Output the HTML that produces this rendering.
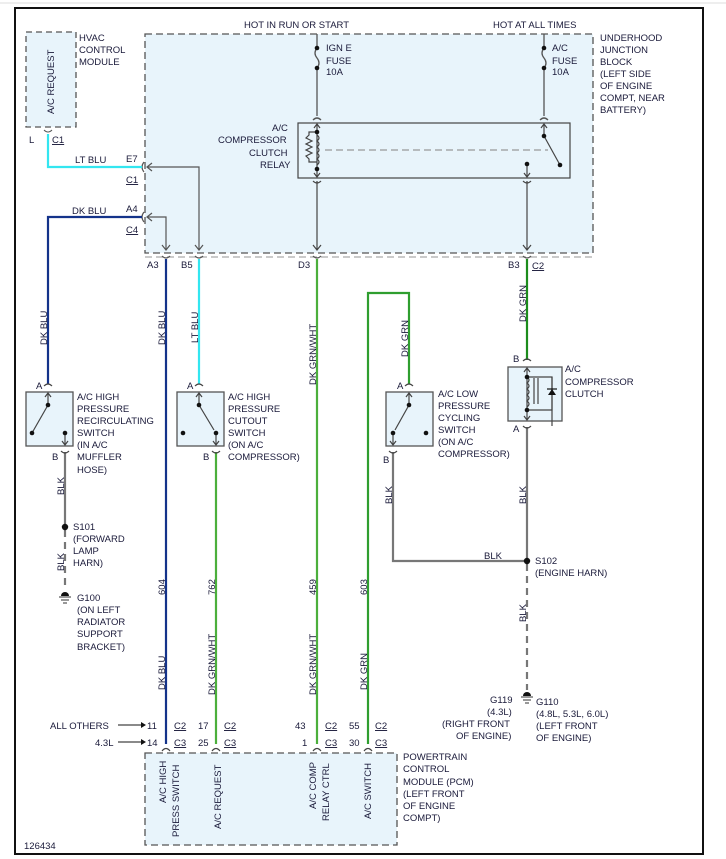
<!DOCTYPE html>
<html><head><meta charset="utf-8"><style>
html,body{margin:0;padding:0;background:#fff;}
svg{display:block;}
text{font-family:"Liberation Sans",sans-serif;font-size:9.5px;fill:#1a1a3a;}
</style></head><body>
<svg width="726" height="859" viewBox="0 0 726 859" xmlns="http://www.w3.org/2000/svg">
<rect x="0" y="0" width="726" height="859" fill="#fff"/>
<line x1="0" y1="3" x2="726" y2="3" stroke="#ddd" stroke-width="1"/>
<rect x="15" y="8" width="688" height="846" fill="none" stroke="#111" stroke-width="2"/>

<!-- HVAC module -->
<rect x="26" y="32" width="50" height="95" fill="#e8f4fb" stroke="#555" stroke-width="1.3" stroke-dasharray="6,4"/>
<text transform="translate(54,114) rotate(-90)">A/C REQUEST</text>
<text x="79" y="41">HVAC</text><text x="79" y="53">CONTROL</text><text x="79" y="65">MODULE</text>
<text x="29" y="143">L</text><text x="52" y="143" text-decoration="underline">C1</text>
<path d="M44,130 q4,4 8,0" fill="none" stroke="#555"/>

<!-- Junction block -->
<rect x="145" y="34" width="448" height="219" fill="#e8f4fb" stroke="#555" stroke-width="1.3" stroke-dasharray="7,4"/>
<line x1="145" y1="257" x2="593" y2="257" stroke="#aaa" stroke-width="1.3" stroke-dasharray="7,4"/>
<text x="244" y="28">HOT IN RUN OR START</text>
<text x="493" y="28">HOT AT ALL TIMES</text>
<text x="600" y="41">UNDERHOOD</text><text x="600" y="53">JUNCTION</text><text x="600" y="65">BLOCK</text>
<text x="600" y="77">(LEFT SIDE</text><text x="600" y="89">OF ENGINE</text><text x="600" y="101">COMPT, NEAR</text><text x="600" y="113">BATTERY)</text>

<!-- fuses -->
<g stroke="#555" stroke-width="1.3" fill="none">
<line x1="317" y1="34" x2="317" y2="48"/><path d="M317,48 q-4,5 0,10 q4,5 0,10"/><line x1="317" y1="68" x2="317" y2="116"/>
<line x1="544" y1="34" x2="544" y2="48"/><path d="M544,48 q-4,5 0,10 q4,5 0,10"/><line x1="544" y1="68" x2="544" y2="116"/>
<path d="M313,120 q4,-4 8,0"/><path d="M540,120 q4,-4 8,0"/>
</g>
<g fill="#111"><circle cx="317" cy="48" r="2.3"/><circle cx="317" cy="68" r="2.3"/><circle cx="544" cy="48" r="2.3"/><circle cx="544" cy="68" r="2.3"/></g>
<text x="326" y="51">IGN E</text><text x="326" y="64">FUSE</text><text x="326" y="75">10A</text>
<text x="552" y="51">A/C</text><text x="552" y="64">FUSE</text><text x="552" y="75">10A</text>

<!-- relay -->
<rect x="298" y="123" width="272" height="55" fill="none" stroke="#444" stroke-width="1.2"/>
<text x="272" y="131">A/C</text><text x="218" y="143">COMPRESSOR</text><text x="249" y="156">CLUTCH</text><text x="260" y="168">RELAY</text>
<g stroke="#444" stroke-width="1.2" fill="none">
<line x1="317" y1="124" x2="317" y2="177"/>
<path d="M314,128 l3,-4 l3,4"/><path d="M314,173 l3,4 l3,-4"/>
<path d="M317,132 h-8 v3 l-3,3 l6,3 l-6,3 l6,3 l-6,3 l6,3 l-6,3 l3,3 v3 h8"/>
<path d="M317,135 q4,3 0,6 q4,3 0,6 q4,3 0,6 q4,3 0,6 q4,3 0,6"/>
<line x1="325" y1="150" x2="548" y2="150" stroke="#999" stroke-dasharray="7,4"/>
<line x1="544" y1="124" x2="544" y2="136"/><path d="M541,128 l3,-4 l3,4"/>
<line x1="544" y1="136" x2="560" y2="165"/>
<line x1="527" y1="164" x2="527" y2="176"/><path d="M524,173 l3,4 l3,-4"/>
<path d="M313,181 q4,4 8,0"/><path d="M523,181 q4,4 8,0"/>
<line x1="317" y1="181" x2="317" y2="250"/><path d="M313,245 l4,5 l4,-5"/>
<line x1="527" y1="181" x2="527" y2="250"/><path d="M523,245 l4,5 l4,-5"/>
</g>
<g fill="#111"><circle cx="317" cy="132" r="2.3"/><circle cx="317" cy="169" r="2.3"/><circle cx="544" cy="136" r="2.3"/><circle cx="560" cy="165" r="2.3"/><circle cx="527" cy="164" r="2.3"/></g>

<!-- internal arrows from E7 and A4 -->
<g stroke="#555" stroke-width="1.2" fill="none">
<path d="M147,167 H199 V250"/><path d="M152,163 l-5,4 l5,4"/><path d="M195,245 l4,5 l4,-5"/>
<path d="M147,217 H166 V250"/><path d="M152,213 l-5,4 l5,4"/><path d="M162,245 l4,5 l4,-5"/>
<path d="M144,162 q-4,5 0,10"/><path d="M144,212 q-4,5 0,10"/>
<path d="M162,256 q4,4 8,0"/><path d="M195,256 q4,4 8,0"/><path d="M313,256 q4,4 8,0"/><path d="M523,256 q4,4 8,0"/>
</g>
<text x="126" y="162">E7</text><text x="126" y="183" text-decoration="underline">C1</text>
<text x="126" y="212">A4</text><text x="126" y="233" text-decoration="underline">C4</text>
<text x="75" y="163">LT BLU</text><text x="72" y="214">DK BLU</text>
<text x="147" y="268">A3</text><text x="181" y="268">B5</text><text x="298" y="268">D3</text><text x="508" y="268">B3</text><text x="532" y="269" text-decoration="underline">C2</text>

<!-- wires -->
<g fill="none" stroke-width="2.2">
<path d="M48,134 V167 H142" stroke="#33e6f0"/>
<path d="M142,217 H48 V384" stroke="#14338a"/>
<path d="M166,259 V744" stroke="#14338a"/>
<path d="M199,259 V384" stroke="#33e6f0"/>
<path d="M317,259 V744" stroke="#4caf3c"/>
<path d="M527,259 V360" stroke="#1c8c1c"/>
<path d="M409,384 V293 H368 V744" stroke="#2f9e2f"/>
<path d="M216,452 V744" stroke="#4caf3c"/>
<path d="M65,452 V527" stroke="#777"/>
<path d="M393,452 V561 H527" stroke="#777"/>
<path d="M527,427 V561" stroke="#777"/>
<path d="M65,530 V590" stroke="#777" stroke-dasharray="7,5"/>
<path d="M527,564 V690" stroke="#777" stroke-dasharray="7,5"/>
</g>
<g fill="#111"><circle cx="65" cy="527" r="3.2"/><circle cx="527" cy="561" r="3.2"/></g>
<!-- grounds -->
<g stroke="#555" stroke-width="1.2"><line x1="59" y1="597" x2="71" y2="597"/><line x1="61" y1="600" x2="69" y2="600"/><line x1="63" y1="603" x2="67" y2="603"/>
<line x1="521" y1="697" x2="533" y2="697"/><line x1="523" y1="700" x2="531" y2="700"/><line x1="525" y1="703" x2="529" y2="703"/></g>
<g fill="#111"><path d="M61,596 a4,4 0 0 1 8,0z"/><path d="M523,696 a4,4 0 0 1 8,0z"/></g>

<!-- wire labels rotated -->
<g>
<text transform="translate(47,345) rotate(-90)">DK BLU</text>
<text transform="translate(165,345) rotate(-90)">DK BLU</text>
<text transform="translate(198,343) rotate(-90)">LT BLU</text>
<text transform="translate(316,385) rotate(-90)">DK GRN/WHT</text>
<text transform="translate(408,357) rotate(-90)">DK GRN</text>
<text transform="translate(526,322) rotate(-90)">DK GRN</text>
<text transform="translate(64,495) rotate(-90)">BLK</text>
<text transform="translate(64,571) rotate(-90)">BLK</text>
<text transform="translate(392,504) rotate(-90)">BLK</text>
<text transform="translate(526,504) rotate(-90)">BLK</text>
<text transform="translate(526,622) rotate(-90)">BLK</text>
<text transform="translate(165,595) rotate(-90)">604</text>
<text transform="translate(215,595) rotate(-90)">762</text>
<text transform="translate(316,595) rotate(-90)">459</text>
<text transform="translate(367,595) rotate(-90)">603</text>
<text transform="translate(165,690) rotate(-90)">DK BLU</text>
<text transform="translate(215,695) rotate(-90)">DK GRN/WHT</text>
<text transform="translate(316,695) rotate(-90)">DK GRN/WHT</text>
<text transform="translate(367,690) rotate(-90)">DK GRN</text>
</g>
<text x="484" y="559">BLK</text>

<!-- switches -->
<g stroke="#555" stroke-width="1.3" fill="#e8f4fb">
<rect x="26" y="392" width="47" height="54"/>
<rect x="177" y="392" width="47" height="54"/>
<rect x="386" y="392" width="47" height="54"/>
<rect x="508" y="367" width="54" height="54"/>
</g>
<g stroke="#444" stroke-width="1.2" fill="none">
<path d="M44,386 q4,-4 8,0"/><path d="M61,451 q4,4 8,0"/>
<line x1="48" y1="393" x2="48" y2="405"/><path d="M45,397 l3,-4 l3,4"/><line x1="48" y1="405" x2="32" y2="433"/>
<line x1="65" y1="433" x2="65" y2="445"/><path d="M62,441 l3,4 l3,-4"/>
<path d="M195,386 q4,-4 8,0"/><path d="M212,451 q4,4 8,0"/>
<line x1="199" y1="393" x2="199" y2="405"/><path d="M196,397 l3,-4 l3,4"/><line x1="199" y1="405" x2="214" y2="430"/>
<line x1="216" y1="433" x2="216" y2="445"/><path d="M213,441 l3,4 l3,-4"/>
<path d="M405,386 q4,-4 8,0"/><path d="M389,451 q4,4 8,0"/>
<line x1="409" y1="393" x2="409" y2="405"/><path d="M406,397 l3,-4 l3,4"/><line x1="409" y1="405" x2="395" y2="430"/>
<line x1="393" y1="433" x2="393" y2="445"/><path d="M390,441 l3,4 l3,-4"/>
<path d="M523,361 q4,-4 8,0"/><path d="M523,426 q4,4 8,0"/>
<line x1="527" y1="368" x2="527" y2="420"/><path d="M524,372 l3,-4 l3,4"/><path d="M524,416 l3,4 l3,-4"/>
<path d="M527,377 q4,3 0,6 q4,3 0,6 q4,3 0,6 q4,3 0,6 q4,3 0,6"/>
<line x1="534" y1="378" x2="534" y2="404"/><line x1="538" y1="378" x2="538" y2="404"/>
<path d="M527,377 H552 V426 M552,426 V426"/><path d="M552,377 V410 H527"/>
</g>
<path d="M548,395 h8 l-4,-6z" fill="#111"/><line x1="547" y1="389" x2="557" y2="389" stroke="#111" stroke-width="1.2"/>
<g fill="#111">
<circle cx="48" cy="405" r="2.3"/><circle cx="32" cy="433" r="2.3"/><circle cx="65" cy="433" r="2.3"/>
<circle cx="199" cy="405" r="2.3"/><circle cx="216" cy="433" r="2.3"/><circle cx="183" cy="433" r="2.3"/>
<circle cx="409" cy="405" r="2.3"/><circle cx="393" cy="433" r="2.3"/><circle cx="426" cy="433" r="2.3"/>
<circle cx="527" cy="377" r="2.3"/><circle cx="527" cy="410" r="2.3"/>
</g>
<text x="36" y="389">A</text><text x="52" y="460">B</text>
<text x="187" y="389">A</text><text x="203" y="460">B</text>
<text x="397" y="389">A</text><text x="383" y="463">B</text>
<text x="513" y="362">B</text><text x="513" y="432">A</text>
<text x="77" y="400">A/C HIGH</text><text x="77" y="412">PRESSURE</text><text x="77" y="424">RECIRCULATING</text><text x="77" y="436">SWITCH</text><text x="77" y="448">(IN A/C</text><text x="77" y="460">MUFFLER</text><text x="77" y="473">HOSE)</text>
<text x="228" y="400">A/C HIGH</text><text x="228" y="412">PRESSURE</text><text x="228" y="424">CUTOUT</text><text x="228" y="436">SWITCH</text><text x="228" y="448">(ON A/C</text><text x="228" y="460">COMPRESSOR)</text>
<text x="438" y="397">A/C LOW</text><text x="438" y="409">PRESSURE</text><text x="438" y="421">CYCLING</text><text x="438" y="433">SWITCH</text><text x="438" y="445">(ON A/C</text><text x="438" y="457">COMPRESSOR)</text>
<text x="565" y="372">A/C</text><text x="565" y="385">COMPRESSOR</text><text x="565" y="397">CLUTCH</text>
<text x="73" y="530">S101</text><text x="73" y="542">(FORWARD</text><text x="73" y="554">LAMP</text><text x="73" y="566">HARN)</text>
<text x="77" y="601">G100</text><text x="77" y="613">(ON LEFT</text><text x="77" y="625">RADIATOR</text><text x="77" y="637">SUPPORT</text><text x="77" y="650">BRACKET)</text>
<text x="535" y="564">S102</text><text x="535" y="576">(ENGINE HARN)</text>
<text x="490" y="703">G119</text><text x="487" y="715">(4.3L)</text><text x="442" y="727">(RIGHT FRONT</text><text x="456" y="739">OF ENGINE)</text>
<text x="536" y="705">G110</text><text x="536" y="717">(4.8L, 5.3L, 6.0L)</text><text x="536" y="729">(LEFT FRONT</text><text x="536" y="741">OF ENGINE)</text>

<!-- PCM -->
<rect x="145" y="753" width="252" height="92" fill="#e8f4fb" stroke="#555" stroke-width="1.3" stroke-dasharray="7,4"/>
<g stroke="#444" stroke-width="1.2" fill="none">
<path d="M162,751 q4,-5 8,0"/><path d="M212,751 q4,-5 8,0"/><path d="M313,751 q4,-5 8,0"/><path d="M364,751 q4,-5 8,0"/>
<line x1="118" y1="725" x2="144" y2="725"/><line x1="118" y1="742" x2="144" y2="742"/>
</g>
<path d="M141,722 l5,3 l-5,3z M141,739 l5,3 l-5,3z" fill="#111"/>
<text x="50" y="729">ALL OTHERS</text><text x="95" y="746">4.3L</text>
<text x="147" y="729">11</text><text x="147" y="746">14</text>
<text x="174" y="729" text-decoration="underline">C2</text><text x="174" y="746" text-decoration="underline">C3</text>
<text x="198" y="729">17</text><text x="198" y="746">25</text>
<text x="224" y="729" text-decoration="underline">C2</text><text x="224" y="746" text-decoration="underline">C3</text>
<text x="295" y="729">43</text><text x="302" y="746">1</text>
<text x="325" y="729" text-decoration="underline">C2</text><text x="325" y="746" text-decoration="underline">C3</text>
<text x="349" y="729">55</text><text x="349" y="746">30</text>
<text x="375" y="729" text-decoration="underline">C2</text><text x="375" y="746" text-decoration="underline">C3</text>
<text transform="translate(166,803) rotate(-90)">A/C HIGH</text>
<text transform="translate(179,837) rotate(-90)">PRESS SWITCH</text>
<text transform="translate(221,829) rotate(-90)">A/C REQUEST</text>
<text transform="translate(316,809) rotate(-90)">A/C COMP</text>
<text transform="translate(329,821) rotate(-90)">RELAY CTRL</text>
<text transform="translate(371,819) rotate(-90)">A/C SWITCH</text>
<text x="403" y="760">POWERTRAIN</text><text x="403" y="772">CONTROL</text><text x="403" y="785">MODULE (PCM)</text><text x="403" y="797">(LEFT FRONT</text><text x="403" y="809">OF ENGINE</text><text x="403" y="821">COMPT)</text>
<text x="24" y="849">126434</text>
</svg>
</body></html>
